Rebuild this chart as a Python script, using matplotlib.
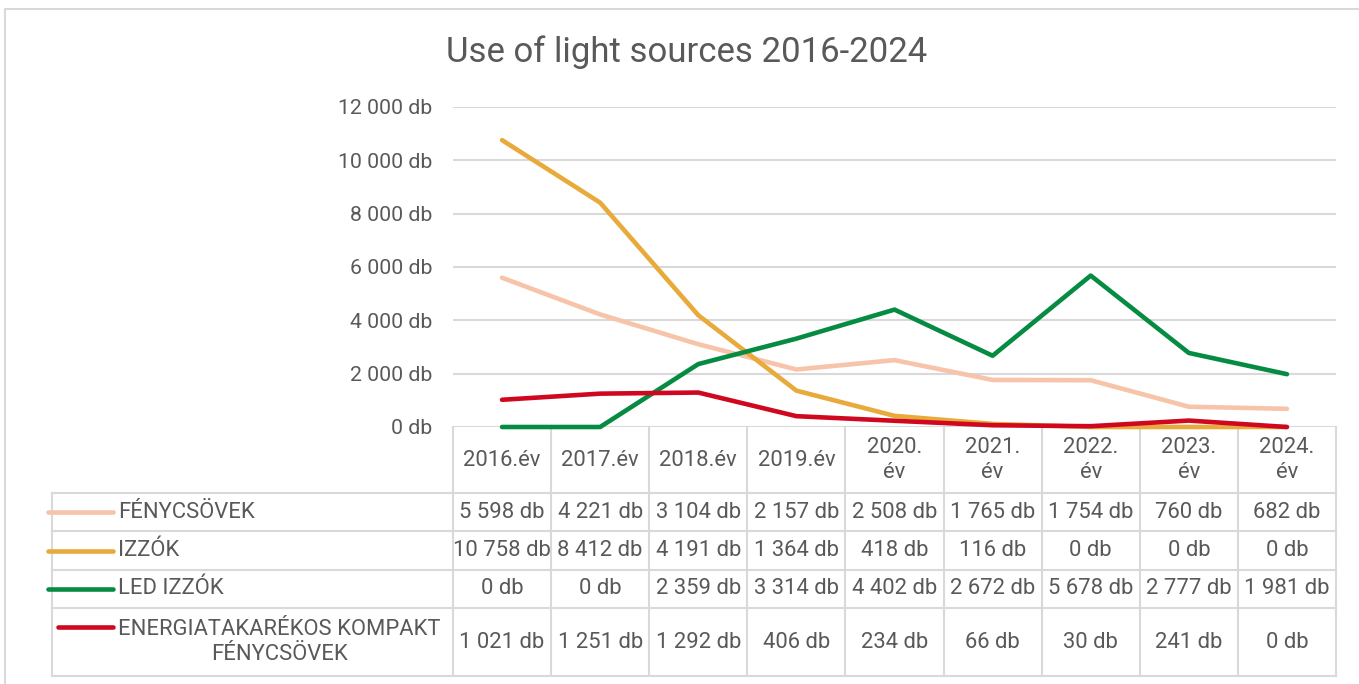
import matplotlib.pyplot as plt
from matplotlib.transforms import blended_transform_factory

plt.rcParams['font.family'] = ['Roboto', 'DejaVu Sans']

# data
years = ['2016.év', '2017.év', '2018.év', '2019.év', '2020. év',
         '2021. év', '2022. év', '2023. év', '2024. év']
fenycsovek = [5598, 4221, 3104, 2157, 2508, 1765, 1754, 760, 682]
izzok = [10758, 8412, 4191, 1364, 418, 116, 0, 0, 0]
led_izzok = [0, 0, 2359, 3314, 4402, 2672, 5678, 2777, 1981]
energia = [1021, 1251, 1292, 406, 234, 66, 30, 241, 0]

names = ['FÉNYCSÖVEK', 'IZZÓK', 'LED IZZÓK', 'ENERGIATAKARÉKOS KOMPAKT\nFÉNYCSÖVEK']
series = [fenycsovek, izzok, led_izzok, energia]
colors = ['#F7C3A9', '#E8AA3A', '#068B43', '#D0081F']
yticks = [0, 2000, 4000, 6000, 8000, 10000, 12000]

txt = '#595959'
grid = '#D9D9D9'

def fmt(v):
    return f'{v:,} db'.replace(',', ' ')

W, H = 1359, 684
fig = plt.figure(figsize=(W / 100, H / 100), dpi=100)

# overlay in pixel coords for the table / frame
ov = fig.add_axes([0, 0, 1, 1])
ov.set_xlim(0, W)
ov.set_ylim(H, 0)
ov.axis('off')

# chart frame
ov.plot([5, 5, W + 5], [H + 5, 8.5, 8.5], color=grid, lw=1.5, clip_on=False)

# plot area
left, right, top, bottom = 453, 1336, 107, 427
ax = fig.add_axes([left / W, 1 - bottom / H, (right - left) / W, (bottom - top) / H])
ax.set_xlim(-0.5, len(years) - 0.5)
ax.set_ylim(0, 12000)
ax.set_yticks(yticks)
ax.set_yticklabels([fmt(v) for v in yticks], color=txt, fontsize=15.3)
ax.tick_params(axis='y', length=0, pad=15)
ax.set_xticks([])
for s in ax.spines.values():
    s.set_visible(False)
ax.grid(axis='y', color=grid, lw=1.5)
ax.set_axisbelow(True)
ax.patch.set_alpha(0)

x = list(range(len(years)))
for vals, c in zip(series, colors):
    ax.plot(x, vals, color=c, lw=3.3, solid_capstyle='round',
            solid_joinstyle='round', clip_on=False, zorder=3)

fig.text(687 / W, 1 - 52 / H, 'Use of light sources 2016-2024',
         ha='center', va='center', fontsize=25, color=txt)

# data table under the plot
tr = blended_transform_factory(ax.transData, ov.transData)
rows = [427, 493, 531, 570, 608, 676]
tab_left = 52
n = len(years)

for i in range(n + 1):
    ov.plot([i - 0.5, i - 0.5], [rows[0], rows[-1]], color=grid, lw=1.5,
            transform=tr, clip_on=False)
ov.plot([tab_left, tab_left], [rows[1], rows[-1]], color=grid, lw=1.5)
for yy in rows[1:]:
    ov.plot([tab_left, right], [yy, yy], color=grid, lw=1.5)

for i, y in enumerate(years):
    ov.text(i, (rows[0] + rows[1]) / 2, y.replace(' ', '\n'), transform=tr,
            ha='center', va='center', fontsize=15.8, color=txt, linespacing=1.25)

for r, (name, vals, c) in enumerate(zip(names, series, colors)):
    yc = (rows[r + 1] + rows[r + 2]) / 2
    if '\n' in name:
        ly = yc - 15
        lx0 = 58
    else:
        ly = yc
        lx0 = 48
    ov.plot([lx0, 113], [ly, ly], color=c, lw=3.3, solid_capstyle='round')
    ov.text(118, yc, name, ha='left', va='center', fontsize=15.8, color=txt,
            multialignment='center', linespacing=1.25)
    for i, v in enumerate(vals):
        ov.text(i, yc, fmt(v), transform=tr, ha='center', va='center',
                fontsize=15.8, color=txt)

fig.savefig('out.png', dpi=100)
